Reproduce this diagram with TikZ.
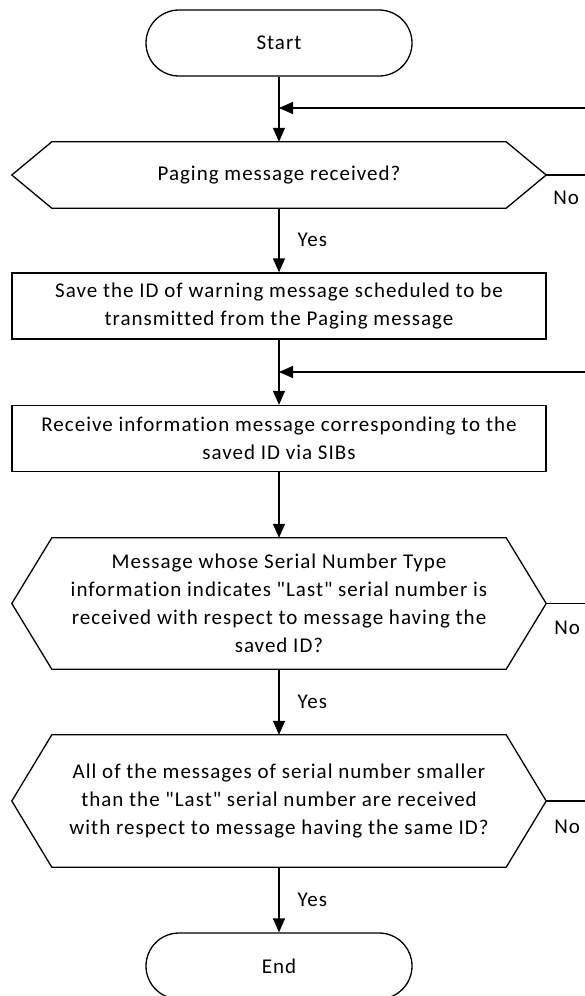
\documentclass[tikz,border=0pt]{standalone}
\usepackage{fontspec}
\setmainfont[LetterSpace=4.8, Ligatures={TeXOff,NoCommon}]{Carlito}
\usetikzlibrary{arrows.meta,calc}
\begin{document}
\begin{tikzpicture}[x=1pt,y=-1pt,
  every node/.style={font=\fontsize{21}{28}\selectfont, inner sep=0pt, align=center},
  lw/.style={line width=1.3pt, line join=miter},
  term/.style={lw, draw, rounded corners=33pt, minimum width=266pt, minimum height=66pt},
  procbox/.style={lw, draw, minimum width=534pt, minimum height=66pt},
  dectext/.style={minimum width=454pt},
  conn/.style={lw},
  arr/.style={lw, -{Triangle[length=14pt,width=12pt]}},
  yeslbl/.style={anchor=west, xshift=18pt},
  nolbl/.style={anchor=west}
]
\clip (0,0) rectangle (585,996);
\useasboundingbox (0,0) rectangle (585,996);

% nodes
\node[term] (start) at (279,43) {Start};

\node[dectext, minimum height=66pt] (d1) at (279,175) {Paging message received?};
\coordinate (d1e) at ($(d1.east)+(40,0)$);
\coordinate (d1w) at ($(d1.west)+(-40,0)$);
\draw[lw] (d1.north west) -- (d1.north east) -- (d1e) -- (d1.south east) -- (d1.south west) -- (d1w) -- cycle;

\node[procbox] (b1) at (279,306) {Save the ID of warning message scheduled to be\\transmitted from the Paging message};

\node[procbox] (b2) at (279,438.5) {Receive information message corresponding to the\\saved ID via SIBs};

\node[dectext, minimum height=131pt] (d2) at (279,603.5) {Message whose Serial Number Type\\information indicates "Last" serial number is\\received with respect to message having the\\saved ID?};
\coordinate (d2e) at ($(d2.east)+(40,0)$);
\coordinate (d2w) at ($(d2.west)+(-40,0)$);
\draw[lw] (d2.north west) -- (d2.north east) -- (d2e) -- (d2.south east) -- (d2.south west) -- (d2w) -- cycle;

\node[dectext, minimum height=132pt] (d3) at (279,801) {All of the messages of serial number smaller\\than the "Last" serial number are received\\with respect to message having the same ID?};
\coordinate (d3e) at ($(d3.east)+(40,0)$);
\coordinate (d3w) at ($(d3.west)+(-40,0)$);
\draw[lw] (d3.north west) -- (d3.north east) -- (d3e) -- (d3.south east) -- (d3.south west) -- (d3w) -- cycle;

\node[term] (end) at (279,966) {End};

% junctions and off-page ends
\coordinate (m1) at (279,108);
\coordinate (m2) at (279,372);
\coordinate (r1) at (600,108);
\coordinate (r2) at (600,372);
\coordinate (o1) at (600,175);
\coordinate (o2) at (600,603.5);
\coordinate (o3) at (600,801);

% connectors
\draw[conn] (start.south) -- (m1);
\draw[arr] (m1) -- (d1.north);
\draw[arr] (r1) -- (m1);
\draw[conn] (d1e) -- (o1);
\node[nolbl] (no1) at ($(d1e)+(7,23)$) {No};

\draw[arr] (d1.south) -- node[yeslbl] (yes1) {Yes} (b1.north);

\draw[conn] (b1.south) -- (m2);
\draw[arr] (m2) -- (b2.north);
\draw[arr] (r2) -- (m2);

\draw[arr] (b2.south) -- (d2.north);
\draw[conn] (d2e) -- (o2);
\node[nolbl] (no2) at ($(d2e)+(8,24)$) {No};

\draw[arr] (d2.south) -- node[yeslbl] (yes2) {Yes} (d3.north);
\draw[conn] (d3e) -- (o3);
\node[nolbl] (no3) at ($(d3e)+(8,26)$) {No};

\draw[arr] (d3.south) -- node[yeslbl] (yes3) {Yes} (end.north);
\end{tikzpicture}
\end{document}
